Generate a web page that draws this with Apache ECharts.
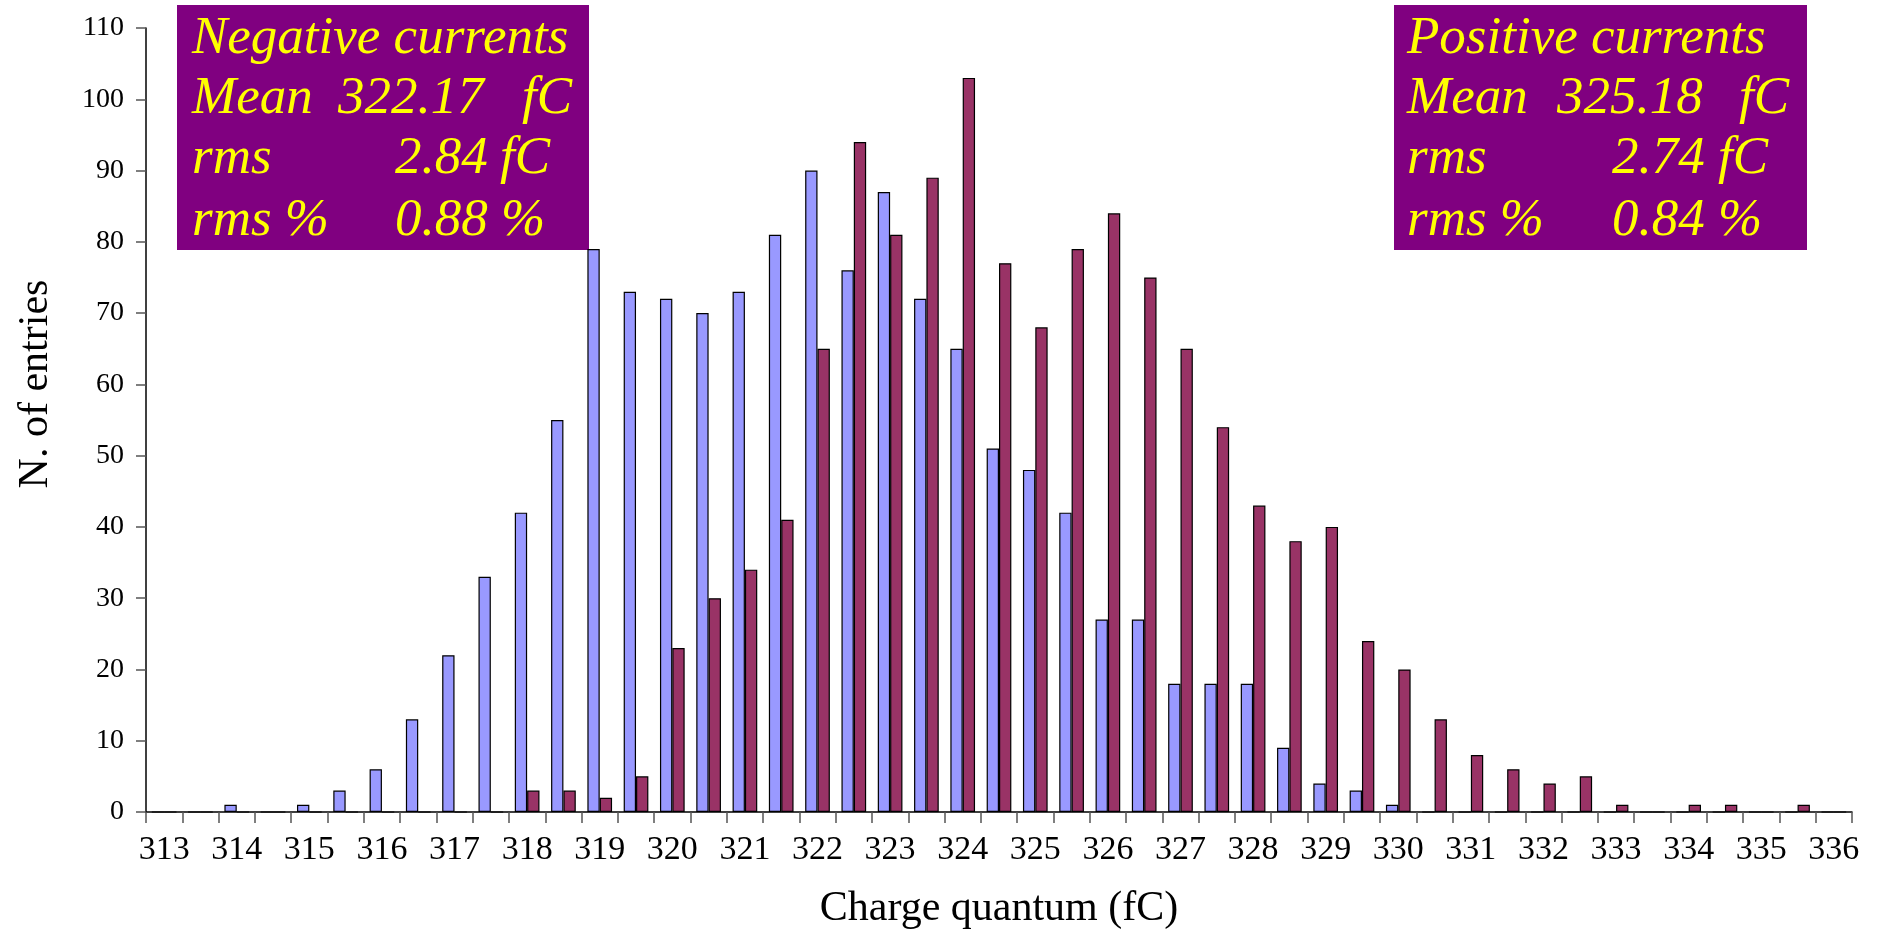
<!DOCTYPE html>
<html>
<head>
<meta charset="utf-8">
<title>Charge quantum distribution</title>
<script src="https://cdn.jsdelivr.net/npm/echarts@6/dist/echarts.min.js"></script>
<style>
  html, body { margin: 0; padding: 0; background: #ffffff; }
  #chart { width: 1878px; height: 930px; }
</style>
</head>
<body>
<div id="chart"></div>
<script>
// Charge quantum bins (fC), 0.5 fC wide
const categories = [
  '313', '313.5', '314', '314.5', '315', '315.5', '316', '316.5',
  '317', '317.5', '318', '318.5', '319', '319.5', '320', '320.5',
  '321', '321.5', '322', '322.5', '323', '323.5', '324', '324.5',
  '325', '325.5', '326', '326.5', '327', '327.5', '328', '328.5',
  '329', '329.5', '330', '330.5', '331', '331.5', '332', '332.5',
  '333', '333.5', '334', '334.5', '335', '335.5', '336'
];

// Entries per bin, negative currents
const negativeCounts = [
  0, 0, 1, 0, 1, 3, 6, 13,
  22, 33, 42, 55, 79, 73, 72, 70,
  73, 81, 90, 76, 87, 72, 65, 51,
  48, 42, 27, 27, 18, 18, 18, 9,
  4, 3, 1, 0, 0, 0, 0, 0,
  0, 0, 0, 0, 0, 0, 0
];

// Entries per bin, positive currents
const positiveCounts = [
  0, 0, 0, 0, 0, 0, 0, 0,
  0, 0, 3, 3, 2, 5, 23, 30,
  34, 41, 65, 94, 81, 89, 103, 77,
  68, 79, 84, 75, 65, 54, 43, 38,
  40, 24, 20, 13, 8, 6, 4, 5,
  1, 0, 1, 1, 0, 1, 0
];

const yTicks = { min: 0, max: 110, interval: 10 };

// Statistics boxes: [label, value, unit]
const negativeStats = [
  ['Negative currents', '', ''],
  ['Mean', '322.17', 'fC'],
  ['rms', '2.84', 'fC'],
  ['rms %', '0.88 %', '']
];
const positiveStats = [
  ['Positive currents', '', ''],
  ['Mean', '325.18', 'fC'],
  ['rms', '2.74', 'fC'],
  ['rms %', '0.84 %', '']
];

const SERIF = "'Liberation Serif', 'Times New Roman', serif";

function statsBox(stats, box) {
  const lineY = [39, 99, 159, 221];
  const children = [{
    type: 'rect',
    shape: { x: box.x, y: box.y, width: box.w, height: box.h },
    style: { fill: '#800080' }
  }];
  stats.forEach(function (row, i) {
    const xs = [box.labelX, box.valueX[i], box.unitX[i]];
    row.forEach(function (t, j) {
      if (!t) return;
      children.push({
        type: 'text',
        x: xs[j],
        y: lineY[i],
        style: {
          text: t,
          fill: '#ffff00',
          font: 'italic 53px ' + SERIF,
          align: 'left',
          verticalAlign: 'middle'
        }
      });
    });
  });
  return { type: 'group', children: children };
}

const chart = echarts.init(document.getElementById('chart'));

chart.setOption({
  animation: false,
  backgroundColor: '#ffffff',
  grid: {
    left: 146, right: 26, top: 28, bottom: 118,
    containLabel: false,
    outerBoundsMode: 'none'
  },
  xAxis: {
    type: 'category',
    data: categories,
    name: 'Charge quantum (fC)',
    nameLocation: 'middle',
    nameGap: 76,
    nameTextStyle: { fontFamily: SERIF, fontSize: 42, color: '#000' },
    axisLine: { lineStyle: { color: '#000', width: 1.5 } },
    axisTick: { show: true, interval: 0, length: 11, lineStyle: { color: '#555', width: 1.5 } },
    axisLabel: {
      interval: 1,
      margin: 21,
      fontFamily: SERIF,
      fontSize: 34,
      color: '#000'
    },
    splitLine: { show: false }
  },
  yAxis: {
    type: 'value',
    min: yTicks.min,
    max: yTicks.max,
    interval: yTicks.interval,
    axisLine: { show: true, lineStyle: { color: '#000', width: 1.5 } },
    axisTick: { show: true, length: 10, lineStyle: { color: '#555', width: 1.5 } },
    axisLabel: { margin: 22, fontFamily: SERIF, fontSize: 28, color: '#000' },
    splitLine: { show: false }
  },
  series: [
    {
      name: 'Negative currents',
      type: 'bar',
      data: negativeCounts,
      barGap: '0%',
      barCategoryGap: '32%',
      itemStyle: { color: '#9999ff', borderColor: '#000', borderWidth: 1.2 }
    },
    {
      name: 'Positive currents',
      type: 'bar',
      data: positiveCounts,
      barGap: '0%',
      barCategoryGap: '32%',
      itemStyle: { color: '#993366', borderColor: '#000', borderWidth: 1.2 }
    }
  ],
  graphic: [
    {
      type: 'text',
      x: 36,
      y: 384,
      rotation: Math.PI / 2,
      style: {
        text: 'N. of entries',
        fill: '#000',
        font: '42px ' + SERIF,
        align: 'center',
        verticalAlign: 'middle'
      }
    },
    statsBox(negativeStats, {
      x: 177, y: 5, w: 412, h: 245,
      labelX: 192,
      valueX: [0, 338, 395, 395],
      unitX: [0, 522, 500, 0]
    }),
    statsBox(positiveStats, {
      x: 1394, y: 5, w: 413, h: 245,
      labelX: 1407,
      valueX: [0, 1557, 1612, 1612],
      unitX: [0, 1739, 1718, 0]
    })
  ]
});
</script>
</body>
</html>
